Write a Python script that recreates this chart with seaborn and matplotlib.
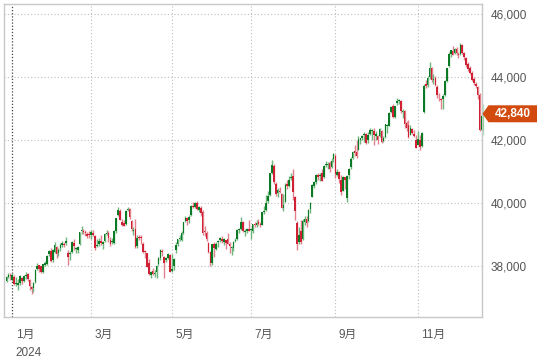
import numpy as np
import pandas as pd
import matplotlib
matplotlib.use("Agg")
import matplotlib.pyplot as plt
import matplotlib.transforms as mtransforms
from matplotlib.patches import Polygon
import seaborn as sns

# trading calendar (US market holidays removed)
holidays = ["2023-12-25", "2024-01-01", "2024-01-15", "2024-02-19", "2024-03-29",
            "2024-05-27", "2024-06-19", "2024-07-04", "2024-09-02", "2024-11-28"]
dates = pd.bdate_range("2023-12-27", "2024-12-20", freq="C", holidays=holidays)

# daily OHLC, Dec 27 2023 .. Dec 20 2024
opens = [37540, 37660, 37720,
         37566, 37640, 37420, 37400, 37450, 37620, 37520, 37690, 37740, 37560, 37320, 37300, 37500, 37900, 38020, 37990, 37820, 38040, 38080, 38370, 38480,
         38200, 38450, 38590, 38410, 38580, 38680, 38700, 38720, 38400, 38380, 38440, 38730, 38550, 38520, 38700, 39100, 39120, 39080, 39020, 39000,
         38990, 39050, 38970, 38640, 38700, 38800, 38690, 38800, 39010, 39060, 38840, 38780, 38720, 39100, 39630, 39760, 39400, 39360, 39340, 39770,
         39800, 39440, 39100, 39180, 38640, 38910, 38910, 38690, 38480, 38400, 38100, 37720, 37850, 37760, 37820, 38050, 38270, 38480, 38300, 38200, 38260, 38350,
         37850, 38000, 38500, 38710, 38860, 38830, 39050, 39430, 39530, 39450, 39620, 39900, 39880, 40000, 39790, 39860, 39720, 39120, 39050, 38720, 38450, 38110,
         38710, 38530, 38750, 38820, 38850, 38750, 38820, 38870, 38690, 38560, 38580, 38800, 38860, 39150, 39180, 39400, 39090, 39100, 39180,
         39140, 39100, 39350, 39320, 39400, 39350, 39310, 39730, 39780, 40060, 40260, 40950, 41180, 40600, 40320, 40400, 40290, 39850, 40050, 40610, 40550, 40810,
         40870, 40200, 39380, 38750, 39100, 38850, 39400, 39480, 39420, 39800, 40200, 40560, 40680, 40880, 40860, 40950, 40820, 41200, 41220, 41260, 41150, 41400,
         41510, 40900, 40990, 40750, 40400, 40820, 40150, 40880, 41150, 41420, 41650, 41610, 41700, 42000, 42080, 42150, 42200, 42000, 42200, 42300,
         42290, 42120, 42130, 42130, 42300, 41990, 42100, 42450, 42460, 42900, 43100, 42740, 43180, 43250, 43250, 42900, 42920, 42550, 42480, 42180, 42350, 42200, 42000,
         41850, 42000, 41820, 42900, 43780, 43750, 44000, 44300, 43900, 43990, 43700, 43400, 43300, 43300, 43450, 43880, 44350, 44750, 44850, 44780,
         44900, 44750, 44750, 45030, 44780, 44620, 44420, 44300, 44150, 43950, 43800, 43700, 43450, 42330, 42300]
highs = [37683, 37778, 37790,
         37790, 37700, 37640, 37600, 37700, 37640, 37720, 37820, 37780, 37600, 37350, 37490, 37900, 38110, 38040, 38010, 38070, 38160, 38340, 38510, 38560,
         38540, 38780, 38640, 38560, 38730, 38790, 38770, 38920, 38500, 38480, 38800, 38860, 38620, 38640, 39090, 39280, 39180, 39140, 39090, 39120,
         39140, 39130, 39000, 38850, 38890, 39000, 38800, 39040, 39150, 39100, 38930, 38880, 39130, 39530, 39890, 39800, 39480, 39460, 39780, 39890,
         39830, 39460, 39240, 39500, 39000, 38990, 38990, 38780, 38520, 38420, 38220, 37850, 37930, 37880, 38020, 38290, 38540, 38540, 38320, 38300, 38420, 38370,
         38380, 38270, 38760, 38860, 39000, 39100, 39400, 39600, 39570, 39620, 39930, 40050, 40050, 40080, 39900, 39910, 39770, 39260, 39110, 38750, 38480, 38700,
         38780, 38780, 38840, 38930, 38950, 38900, 38840, 39050, 38750, 38640, 38800, 38900, 39190, 39220, 39550, 39420, 39180, 39220, 39450,
         39220, 39350, 39410, 39470, 39500, 39400, 39730, 39900, 40260, 40400, 40970, 41380, 41230, 40670, 40480, 40520, 40330, 40300, 40640, 40720, 40860, 40970,
         41100, 40240, 39420, 39250, 39450, 39500, 39580, 39600, 39800, 40050, 40600, 40700, 40910, 40960, 40950, 41080, 41200, 41350, 41300, 41350, 41450, 41590,
         41560, 41090, 41030, 40880, 40860, 40830, 40900, 41120, 41460, 41650, 41850, 42000, 42130, 42080, 42180, 42250, 42220, 42270, 42400, 42350,
         42390, 42280, 42160, 42400, 42340, 42130, 42530, 42520, 42900, 43100, 43140, 43100, 43330, 43325, 43270, 43000, 42950, 42600, 42640, 42480, 42400, 42330, 42150,
         42300, 42150, 42250, 43800, 43900, 44050, 44490, 44320, 44100, 44050, 43750, 43500, 43350, 43470, 43900, 44300, 44800, 44870, 44980, 44940,
         44950, 44790, 45080, 45060, 44800, 44630, 44480, 44350, 44200, 44000, 43860, 43720, 43500, 42820, 43150]
lows = [37495, 37630, 37560,
        37530, 37410, 37380, 37240, 37400, 37430, 37500, 37580, 37520, 37250, 37120, 37180, 37460, 37880, 37800, 37790, 37780, 37990, 38040, 38330, 38140,
        38130, 38420, 38250, 38330, 38480, 38620, 38590, 38680, 38030, 38200, 38420, 38510, 38410, 38410, 38680, 39030, 39020, 38960, 38890, 38900,
        38860, 38960, 38520, 38610, 38650, 38660, 38550, 38750, 38980, 38770, 38650, 38700, 38700, 39050, 39600, 39460, 39280, 39260, 39320, 39740,
        39490, 39120, 38990, 38580, 38580, 38840, 38690, 38400, 38240, 37960, 37710, 37610, 37730, 37640, 37610, 38030, 38200, 38310, 37620, 38120, 38220, 37810,
        37810, 37880, 38430, 38630, 38800, 38810, 39010, 39390, 39320, 39380, 39600, 39850, 39830, 39780, 39720, 39590, 39000, 38970, 38800, 38420, 38000, 38020,
        38290, 38500, 38600, 38750, 38740, 38670, 38550, 38700, 38430, 38340, 38480, 38750, 38840, 39050, 39160, 39070, 38950, 39050, 39110,
        38870, 39050, 39230, 39250, 39300, 39230, 39290, 39660, 39760, 40000, 40230, 40930, 40610, 40220, 40200, 40320, 39840, 39760, 40020, 40460, 40510, 40720,
        40100, 39450, 38500, 38700, 38700, 38830, 39300, 39250, 39400, 39700, 40190, 40480, 40600, 40750, 40700, 40700, 40800, 41150, 41090, 41000, 41120, 41300,
        40800, 40850, 40650, 40250, 40380, 40450, 40050, 40780, 41100, 41400, 41500, 41440, 41680, 41880, 42000, 41950, 41870, 41900, 42160, 42000,
        41840, 42000, 41880, 42100, 41900, 41940, 42060, 42240, 42440, 42850, 42700, 42700, 43120, 43150, 42850, 42700, 42380, 42280, 42080, 42150, 42200, 42100, 41760,
        41840, 41700, 41800, 42880, 43650, 43700, 43950, 43860, 43800, 43710, 43350, 43250, 42990, 42980, 43400, 43850, 44320, 44650, 44700, 44750,
        44700, 44610, 44700, 44750, 44550, 44320, 44200, 44090, 43880, 43750, 43650, 43300, 42300, 42300, 42160]
closes = [37657, 37710, 37690,
          37715, 37430, 37440, 37466, 37683, 37525, 37696, 37711, 37593, 37361, 37267, 37469, 37864, 38001, 37906, 37806, 38049, 38109, 38333, 38467, 38150,
          38519, 38654, 38380, 38521, 38677, 38726, 38671, 38797, 38273, 38424, 38773, 38628, 38564, 38612, 39069, 39131, 39069, 39053, 38949, 38996,
          39087, 38990, 38585, 38661, 38791, 38723, 38770, 39005, 39043, 38906, 38715, 38790, 39110, 39512, 39781, 39476, 39313, 39282, 39760, 39807,
          39567, 39170, 39127, 38597, 38904, 38892, 38884, 38462, 38459, 37983, 37735, 37799, 37753, 37775, 37986, 38240, 38504, 38461, 38086, 38240, 38386, 37816,
          37903, 38226, 38676, 38852, 38884, 39056, 39388, 39513, 39432, 39558, 39908, 39869, 40004, 39807, 39872, 39671, 39065, 39070, 38852, 38442, 38112, 38686,
          38571, 38711, 38807, 38886, 38799, 38868, 38747, 38712, 38647, 38589, 38778, 38834, 39134, 39150, 39411, 39112, 39127, 39164, 39118,
          39169, 39331, 39308, 39375, 39344, 39291, 39721, 39753, 40000, 40212, 40954, 41198, 40665, 40287, 40415, 40358, 39854, 39935, 40589, 40539, 40743, 40842,
          40348, 39737, 38703, 38997, 38763, 39446, 39497, 39357, 39766, 40009, 40563, 40660, 40896, 40834, 40890, 40713, 41175, 41240, 41250, 41091, 41335, 41563,
          40937, 40975, 40756, 40345, 40830, 40737, 40861, 41097, 41394, 41622, 41606, 41504, 42025, 42063, 42124, 42208, 41915, 42175, 42313, 42330,
          42156, 42196, 42011, 42353, 41954, 42080, 42512, 42454, 42864, 43065, 42740, 43077, 43239, 43276, 42931, 42925, 42514, 42374, 42114, 42387, 42233, 42142, 41763,
          42052, 41794, 42222, 43729, 43729, 43989, 44293, 43911, 43958, 43751, 43445, 43390, 43269, 43408, 43870, 44297, 44736, 44860, 44722, 44911,
          44782, 44705, 45014, 44766, 44642, 44401, 44248, 44149, 43914, 43828, 43717, 43450, 42326, 42780, 42840]

month_starts = ["2024-01", "2024-03", "2024-05", "2024-07", "2024-09", "2024-11"]
month_labels = ["1月", "3月", "5月", "7月", "9月", "11月"]
year_label = "2024"
y_ticks = [38000, 40000, 42000, 44000, 46000]
last_price = 42840

n = min(len(dates), len(opens), len(highs), len(lows), len(closes))
df = pd.DataFrame({"date": dates[:n], "open": opens[:n], "high": highs[:n],
                   "low": lows[:n], "close": closes[:n]})
df["i"] = np.arange(n)
df["up"] = df["close"] >= df["open"]

sns.set_theme(style="white")
plt.rcParams["font.family"] = ["Liberation Sans", "Noto Sans CJK JP", "DejaVu Sans"]

W, H = 545, 362
fig = plt.figure(figsize=(W / 100, H / 100), dpi=100)
ax = fig.add_axes([4 / W, 45 / H, 478 / W, 313 / H])

green, red = "#0c7a24", "#cf2034"
green_w, red_w = "#6fb57e", "#e2808c"
body_col = np.where(df["up"], green, red).astype(object)
wick_col = np.where(df["up"], green_w, red_w).astype(object)
body_col[-1] = "#8fd19e"
wick_col[-1] = "#b9e2c2"

ax.vlines(df["i"], df["low"], df["high"], colors=list(wick_col), lw=1.0, zorder=2, clip_on=False)
bottom = df[["open", "close"]].min(axis=1)
height = (df["close"] - df["open"]).abs().clip(lower=30)
ax.bar(df["i"], height, bottom=bottom, width=0.85, color=list(body_col), lw=0, zorder=3, clip_on=False)

# axes layout: first trading day of January at px 12.3, 1.923 px per session
i_jan = df.index[df["date"] >= "2024-01-01"][0]
ax.set_xlim(i_jan - 4.32, i_jan + 244.26)
ax.set_ylim(36380, 46330)

for s in ax.spines.values():
    s.set_color("#c8c8c8")
    s.set_linewidth(1.0)

ax.set_yticks(y_ticks)
ax.set_yticklabels([f"{v:,}" for v in y_ticks])
ax.yaxis.tick_right()
ax.tick_params(axis="y", length=0, pad=6, labelsize=8.5, labelcolor="#555555")
ax.set_xticks([])
for v in y_ticks:
    ax.axhline(v, color="#bdbdbd", lw=0.8, ls=(0, (1, 2)), zorder=1)

trans = mtransforms.blended_transform_factory(ax.transData, ax.transAxes)
for k, (m, lab) in enumerate(zip(month_starts, month_labels)):
    pos = df.index[df["date"] >= m][0]
    if k == 0:
        ax.axvline(pos, color="#444444", lw=0.9, ls=(0, (1, 1.5)), zorder=1)
    else:
        ax.axvline(pos, color="#bdbdbd", lw=0.8, ls=(0, (1, 2)), zorder=1)
    ax.text(pos + 1.8, -0.0575, lab, transform=trans, ha="left", va="center",
            fontsize=8.5, color="#555555", clip_on=False)
    if k == 0:
        ax.text(pos + 1.4, -0.114, year_label, transform=trans, ha="left", va="center",
                fontsize=8.5, color="#555555", clip_on=False)

# last price tag
y0, y1 = ax.get_ylim()
yc = 317 - (last_price - y0) / (y1 - y0) * 313
pts = [(482.5, yc), (488.5, yc - 8.5), (537, yc - 8.5), (537, yc + 8.5), (488.5, yc + 8.5)]
fig.add_artist(Polygon([(x / W, 1 - y / H) for x, y in pts], closed=True,
                       transform=fig.transFigure, color="#d24a0e", lw=0))
fig.text(512.5 / W, 1 - yc / H, f"{last_price:,}", color="white", fontsize=8.5,
         fontweight="bold", ha="center", va="center")

fig.savefig("out.png", dpi=100, facecolor="white")
